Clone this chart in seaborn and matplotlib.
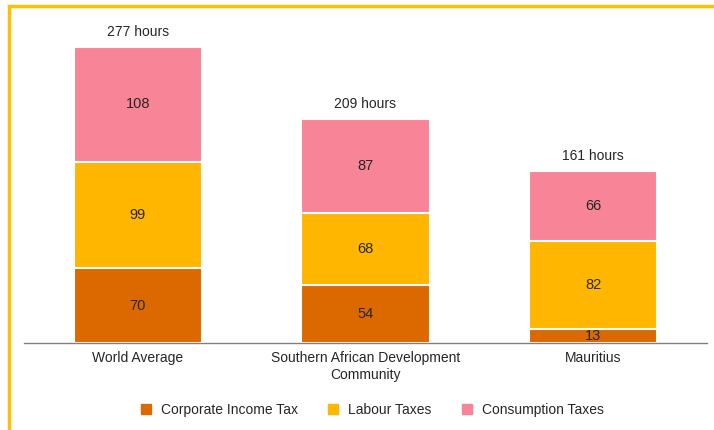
import pandas as pd
import seaborn as sns
import matplotlib.pyplot as plt
from matplotlib.patches import Rectangle
from matplotlib.lines import Line2D

regions = ["World Average", "Southern African Development\nCommunity", "Mauritius"]
corporate = [70, 54, 13]
labour = [99, 68, 82]
consumption = [108, 87, 66]
totals = [277, 209, 161]

series_names = ["Corporate Income Tax", "Labour Taxes", "Consumption Taxes"]
colors = ["#DC6900", "#FFB600", "#F78497"]

sns.set_style("white")
plt.rcParams['font.family'] = ['Liberation Sans', 'DejaVu Sans']

df = pd.DataFrame({"region": regions, "corporate": corporate,
                   "labour": labour, "consumption": consumption})
df["lvl1"] = df["corporate"]
df["lvl2"] = df["corporate"] + df["labour"]
df["lvl3"] = df["lvl2"] + df["consumption"]

fig = plt.figure(figsize=(7.14, 4.3), dpi=100)
ax = fig.add_axes([24 / 714, 1 - 343 / 430, 683 / 714, 323 / 430])

# stacked bars by overlaying cumulative heights
for col, c in zip(["lvl3", "lvl2", "lvl1"], colors[::-1]):
    sns.barplot(data=df, x="region", y=col, color=c, saturation=1, width=0.565,
                edgecolor="white", linewidth=1.5, ax=ax, errorbar=None)

ax.set_xlim(-0.5, 2.5)
ax.set_ylim(0, 302)

for i in range(len(regions)):
    ax.text(i, df["lvl1"][i] / 2, str(corporate[i]), ha="center", va="center", fontsize=10.5)
    ax.text(i, df["lvl1"][i] + labour[i] / 2, str(labour[i]), ha="center", va="center", fontsize=10.5)
    ax.text(i, df["lvl2"][i] + consumption[i] / 2, str(consumption[i]), ha="center", va="center", fontsize=10.5)
    ax.text(i, totals[i] + 14, f"{totals[i]} hours", ha="center", va="center", fontsize=10)

ax.set_xlabel("")
ax.set_ylabel("")
ax.set_yticks([])
ax.tick_params(axis="x", length=0, labelsize=10, pad=6)
for s in ["top", "right", "left"]:
    ax.spines[s].set_visible(False)
ax.spines["bottom"].set_color("#808080")
ax.spines["bottom"].set_linewidth(1)

handles = [Line2D([], [], marker="s", linestyle="none", markersize=7,
                  markerfacecolor=c, markeredgecolor=c) for c in colors]
fig.legend(handles, series_names, loc="center", bbox_to_anchor=(368 / 714, 1 - 410 / 430),
           ncol=3, frameon=False, fontsize=10, handletextpad=0.1, columnspacing=1.5)

# yellow frame
fig.patches.append(Rectangle((9 / 714, -0.1), 1.2, 1 - 6 / 430 + 0.1, transform=fig.transFigure,
                             fill=False, edgecolor="#FFC000", linewidth=2.5, clip_on=False))

fig.savefig("out.png", dpi=100)
